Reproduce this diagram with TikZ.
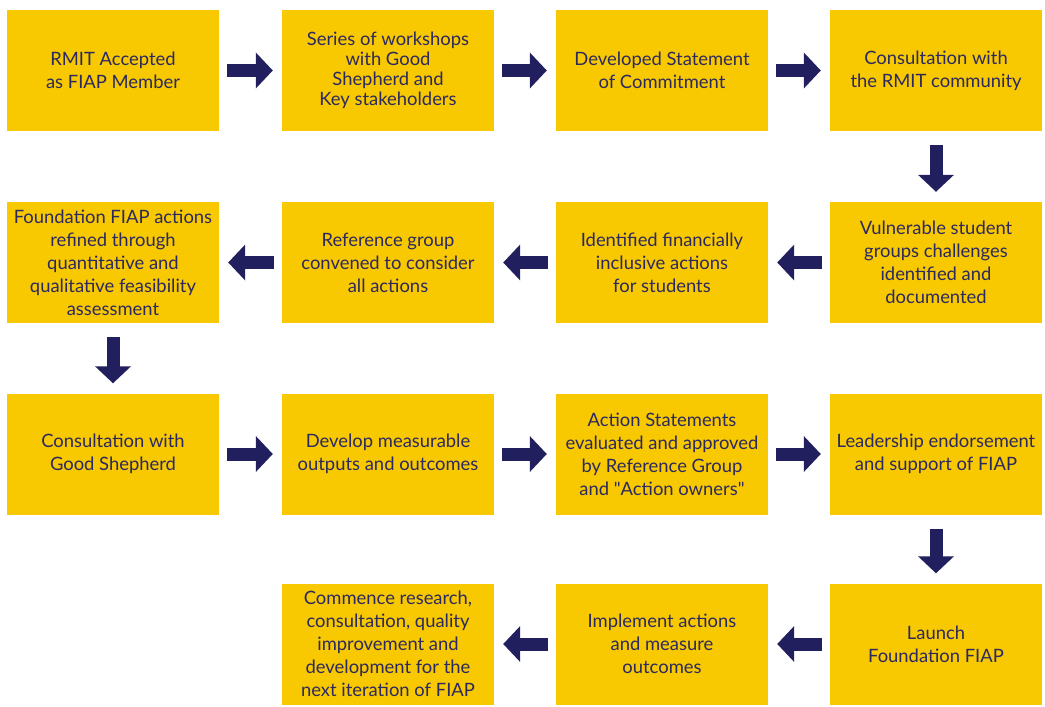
\documentclass[tikz,border=0pt]{standalone}
\usepackage{fontspec}
\setmainfont{Lato}
\usetikzlibrary{arrows.meta}
\definecolor{fiapyellow}{HTML}{F8C800}
\definecolor{fiapnavy}{HTML}{2B2960}
\definecolor{arrownavy}{HTML}{221F5E}

\begin{document}
\begin{tikzpicture}[
  x=1pt, y=-1pt,
  stage/.style={fill=fiapyellow, minimum width=212pt, minimum height=121pt,
    inner sep=2pt, text=fiapnavy, align=center,
    font=\fontsize{18.4}{23}\selectfont},
  tight/.style={font=\fontsize{18.4}{20}\selectfont},
  flow/.style={arrownavy, line width=13pt,
    -{Triangle[length=17pt, width=35pt]}},
  hflow/.style={flow, shorten <=8pt, shorten >=9pt},
  vflow/.style={flow, shorten <=14pt, shorten >=10pt}
]
\useasboundingbox (0,0) rectangle (1045,707);
% ---- first row, left to right ----
\node[stage] (member)   at (113,70.5) {RMIT Accepted\\as FIAP Member};
\node[stage, tight] (workshop) at (388,70.5) {Series of workshops\\with Good\\Shepherd and\\Key stakeholders};
\node[stage] (commit)   at (662,70.5) {Developed Statement\\of Commitment};
\node[stage] (rmitcons) at (936,70.5) {Consultation with\\the RMIT community};
% ---- second row, right to left ----
\node[stage] (vulner)   at (936,262.5) {Vulnerable student\\groups challenges\\identified and\\documented};
\node[stage] (inclus)   at (662,262.5) {Identified financially\\inclusive actions\\for students};
\node[stage] (refgroup) at (388,262.5) {Reference group\\convened to consider\\all actions};
\node[stage] (refine)   at (113,262.5) {Foundation FIAP actions\\refined through\\quantitative and\\qualitative feasibility\\assessment};
% ---- third row, left to right ----
\node[stage] (gscons)   at (113,454) {Consultation with\\Good Shepherd};
\node[stage] (outputs)  at (388,454) {Develop measurable\\outputs and outcomes};
\node[stage] (approve)  at (662,454) {Action Statements\\evaluated and approved\\by Reference Group\\and \textquotedbl Action owners\textquotedbl};
\node[stage] (endorse)  at (936,454) {Leadership endorsement\\and support of FIAP};
% ---- fourth row, right to left ----
\node[stage] (launch)   at (936,644) {Launch\\Foundation FIAP};
\node[stage] (measure)  at (662,644) {Implement actions\\and measure\\outcomes};
\node[stage] (iterate)  at (388,644) {Commence research,\\consultation, quality\\improvement and\\development for the\\next iteration of FIAP};
% ---- block arrows ----
\draw[hflow] (member) -- (workshop);
\draw[hflow] (workshop) -- (commit);
\draw[hflow] (commit) -- (rmitcons);
\draw[vflow] (rmitcons) -- (vulner);
\draw[hflow] (vulner) -- (inclus);
\draw[hflow] (inclus) -- (refgroup);
\draw[hflow] (refgroup) -- (refine);
\draw[vflow] (refine) -- (gscons);
\draw[hflow] (gscons) -- (outputs);
\draw[hflow] (outputs) -- (approve);
\draw[hflow] (approve) -- (endorse);
\draw[vflow] (endorse) -- (launch);
\draw[hflow] (launch) -- (measure);
\draw[hflow] (measure) -- (iterate);
\end{tikzpicture}
\end{document}
